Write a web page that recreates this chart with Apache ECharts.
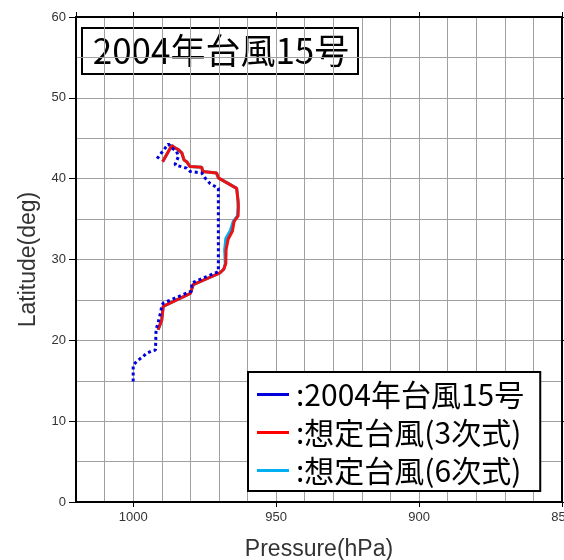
<!DOCTYPE html>
<html>
<head>
<meta charset="utf-8">
<script src="https://cdn.jsdelivr.net/npm/echarts@6/dist/echarts.min.js"></script>
<style>html,body{margin:0;padding:0;background:#fff;}#c{width:564px;height:560px;}</style>
</head>
<body>
<div id="c"></div>
<script>
// ---- data ----
const seriesNames = ['2004年台風15号', '想定台風(3次式)', '想定台風(6次式)'];
const titleText = '2004年台風15号';
const xName = 'Pressure(hPa)';
const yName = 'Latitude(deg)';

const bluePressure = [1000, 1000, 998.8, 996.5, 995.3, 993.5, 992.2, 992.0, 991.2, 990.3, 990.0, 989.5, 979.6, 979.5, 970.2, 970.2, 973.1, 974.9, 976.0, 980.1, 981.3, 985.4, 984.2, 984.8, 986.5, 987.7, 991.8];
const blueLat      = [14.9, 16.9, 17.4, 18.0, 18.4, 18.7, 18.8, 21.3, 22.3, 23.6, 24.3, 24.6, 26.1, 27.1, 28.5, 38.8, 39.4, 40.1, 40.7, 40.9, 41.3, 41.7, 42.7, 43.4, 43.8, 44.3, 42.4];

const redPressure = [991.3, 990.0, 989.5, 980.0, 979.0, 969.8, 968.3, 967.6, 967.5, 966.8, 965.3, 964.7, 963.3, 963.2, 963.3, 963.8, 970.2, 970.8, 975.7, 976.0, 980.1, 981.3, 982.2, 983.0, 984.2, 985.4, 986.5, 989.7];
const redLat      = [21.3, 22.5, 24.2, 25.8, 26.9, 28.3, 28.8, 29.5, 31.2, 32.5, 33.5, 34.7, 35.4, 36.5, 37.2, 38.8, 40.1, 40.7, 40.9, 41.4, 41.5, 42.1, 42.3, 43.2, 43.6, 43.8, 44.1, 42.1];

const cyanPressure = [991.3, 990.0, 989.5, 980.0, 979.0, 969.8, 968.3, 967.8, 968.0, 967.6, 966.0, 965.0, 963.5, 963.3, 963.3, 963.8, 970.2, 970.9, 975.7, 976.0, 980.1, 981.3, 982.2, 983.0, 984.2, 985.4, 986.5, 989.7];
const cyanLat      = [21.3, 22.5, 24.2, 25.8, 26.9, 28.3, 28.8, 29.5, 31.2, 32.6, 33.6, 34.7, 35.4, 36.5, 37.2, 38.8, 40.1, 40.7, 40.9, 41.4, 41.5, 42.1, 42.3, 43.2, 43.6, 43.8, 44.1, 42.1];

const xMin = 850, xMax = 1020;
const yMin = 0, yMax = 60;

// ---- build ----
const zip = (a, b) => a.map((v, i) => [v, b[i]]);
const chart = echarts.init(document.getElementById('c'), null, {renderer: 'canvas'});
const labelFont = {fontFamily: 'Liberation Sans, Arial, sans-serif', fontSize: 13, color: '#333'};
const frameLine = {show: true, onZero: false, lineStyle: {color: '#000', width: 2}};
const gridLine = {show: true, lineStyle: {color: '#a0a0a0', width: 1}};

const option = {
  animation: false,
  backgroundColor: '#fff',
  grid: {left: 76, top: 17, right: 2, bottom: 58, containLabel: false, outerBoundsMode: 'none'},
  xAxis: [
    {type: 'value', position: 'bottom', min: xMin, max: xMax, interval: 50, inverse: true,
     axisLine: frameLine, axisTick: {show: true, inside: false, length: 5, lineStyle: {color: '#000', width: 1}},
     axisLabel: Object.assign({margin: 9, showMaxLabel: false, formatter: v => (v % 50 === 0 ? String(v) : '')}, labelFont),
     splitLine: {show: false},
     name: xName, nameLocation: 'middle', nameGap: 36,
     nameTextStyle: {fontFamily: 'Liberation Sans, Arial, sans-serif', fontSize: 23, color: '#333'}},
    {type: 'value', position: 'top', min: xMin, max: xMax, interval: 50, inverse: true,
     axisLine: frameLine, axisTick: {show: true, inside: false, length: 5, lineStyle: {color: '#000', width: 1}},
     axisLabel: {show: false}, splitLine: {show: false}},
    {type: 'value', position: 'bottom', min: xMin, max: xMax, interval: 10, inverse: true,
     axisLine: {show: false}, axisTick: {show: false}, axisLabel: {show: false}, splitLine: gridLine}
  ],
  yAxis: [
    {type: 'value', position: 'left', min: yMin, max: yMax, interval: 10,
     axisLine: frameLine, axisTick: {show: true, inside: false, length: 7, lineStyle: {color: '#000', width: 1}},
     axisLabel: Object.assign({margin: 10}, labelFont), splitLine: {show: false},
     name: yName, nameLocation: 'middle', nameGap: 32,
     nameTextStyle: {fontFamily: 'Liberation Sans, Arial, sans-serif', fontSize: 23, color: '#333'}},
    {type: 'value', position: 'right', min: yMin, max: yMax, interval: 10,
     axisLine: frameLine, axisTick: {show: true, inside: false, length: 7, lineStyle: {color: '#000', width: 1}},
     axisLabel: {show: false}, splitLine: {show: false}},
    {type: 'value', position: 'left', min: yMin, max: yMax, interval: 5,
     axisLine: {show: false}, axisTick: {show: false}, axisLabel: {show: false}, splitLine: gridLine}
  ],
  legend: {
    left: 248, top: 372, orient: 'vertical',
    backgroundColor: '#fff', borderColor: '#000', borderWidth: 2,
    padding: [7, 16, 5, 9], itemGap: 7, itemWidth: 32, itemHeight: 3, icon: 'rect',
    textStyle: {fontFamily: 'Noto Sans CJK JP', fontSize: 30, color: '#000', lineHeight: 31, padding: [0, 0, 0, 2]},
    formatter: n => ':' + n,
    data: [
      {name: seriesNames[0], itemStyle: {color: '#0000dd', borderWidth: 0}, lineStyle: {type: 'solid', width: 0}},
      {name: seriesNames[1], itemStyle: {color: '#ff0000', borderWidth: 0}, lineStyle: {type: 'solid', width: 0}},
      {name: seriesNames[2], itemStyle: {color: '#00b0f0', borderWidth: 0}, lineStyle: {type: 'solid', width: 0}}
    ],
    z: 20
  },
  graphic: [{
    type: 'group', left: 81, top: 27, z: 20,
    children: [
      {type: 'rect', shape: {x: 0, y: 0, width: 276, height: 46}, style: {fill: '#fff', stroke: '#000', lineWidth: 2}},
      {type: 'text', x: 139, y: 23, style: {text: titleText, font: '35px "Noto Sans CJK JP"', fill: '#000', align: 'center', verticalAlign: 'middle'}}
    ]
  }],
  series: [
    {name: seriesNames[2], type: 'line', xAxisIndex: 0, yAxisIndex: 0, data: zip(cyanPressure, cyanLat),
     color: '#00b0f0', symbol: 'none', lineStyle: {color: '#00b0f0', width: 3}, z: 3},
    {name: seriesNames[1], type: 'line', xAxisIndex: 0, yAxisIndex: 0, data: zip(redPressure, redLat),
     color: '#ff0000', symbol: 'none', lineStyle: {color: '#ee1111', width: 3}, z: 4},
    {name: seriesNames[0], type: 'line', xAxisIndex: 0, yAxisIndex: 0, data: zip(bluePressure, blueLat),
     color: '#0000dd', symbol: 'none', lineStyle: {color: '#0000dd', width: 3, type: [3, 3]}, z: 5}
  ]
};
chart.setOption(option);
</script>
</body>
</html>
